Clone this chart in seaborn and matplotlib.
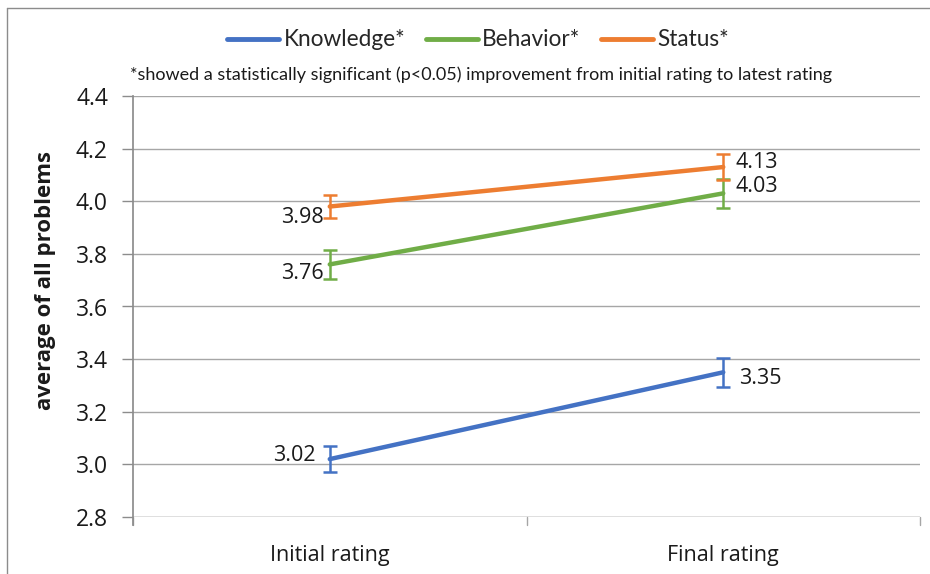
import matplotlib
matplotlib.use("Agg")
import matplotlib.pyplot as plt
import seaborn as sns
import pandas as pd
from matplotlib.lines import Line2D

# Data
ratings = ["Initial rating", "Final rating"]
series_names = ["Knowledge*", "Behavior*", "Status*"]
knowledge = [3.02, 3.35]
behavior = [3.76, 4.03]
status = [3.98, 4.13]
knowledge_err = [0.05, 0.055]
behavior_err = [0.055, 0.055]
status_err = [0.045, 0.048]
y_ticks = [2.8, 3.0, 3.2, 3.4, 3.6, 3.8, 4.0, 4.2, 4.4]

colors = {"Knowledge*": "#4472C4", "Behavior*": "#70AD47", "Status*": "#ED7D31"}
values = {"Knowledge*": knowledge, "Behavior*": behavior, "Status*": status}
errors = {"Knowledge*": knowledge_err, "Behavior*": behavior_err, "Status*": status_err}

rows = []
for name in series_names:
    for r, v in zip(ratings, values[name]):
        rows.append({"rating": r, "series": name, "value": v})
df = pd.DataFrame(rows)

sns.set_theme(style="white")
plt.rcParams["font.family"] = ["Open Sans", "DejaVu Sans"]

fig = plt.figure(figsize=(9.30, 5.74), dpi=100)
ax = fig.add_axes([133 / 930, 1 - 517 / 574, (920 - 133) / 930, (517 - 96) / 574])

sns.lineplot(data=df, x="rating", y="value", hue="series", hue_order=series_names,
             palette=colors, linewidth=3.2, ax=ax, legend=False, sort=False)

xs = [0, 1]
for name in series_names:
    ax.errorbar(xs, values[name], yerr=errors[name], fmt="none",
                ecolor=colors[name], elinewidth=1.8, capsize=5, capthick=1.8, zorder=3)

# Value labels
label_pos = {
    "Knowledge*": [(-0.035, 0.012, "right"), (0.04, -0.025, "left")],
    "Behavior*": [(-0.015, -0.035, "right"), (0.03, 0.025, "left")],
    "Status*": [(-0.015, -0.04, "right"), (0.03, 0.017, "left")],
}
for name in series_names:
    for i, v in enumerate(values[name]):
        dx, dy, ha = label_pos[name][i]
        ax.text(xs[i] + dx, v + dy, f"{v:.2f}", ha=ha, va="center",
                fontsize=15.5, color="#1a1a1a")

ax.set_xlim(-0.5, 1.5)
ax.set_ylim(2.8, 4.4)
ax.set_yticks(y_ticks)
ax.set_yticklabels([f"{t:.1f}" for t in y_ticks], fontsize=16.5, color="#1a1a1a")
ax.set_xticks(xs)
ax.set_xticklabels(ratings, fontsize=15.5, color="#1a1a1a")
ax.tick_params(axis="x", length=0, pad=20)
ax.tick_params(axis="y", length=8, width=1, color="#8c8c8c", pad=10, left=True)
ax.grid(axis="y", color="#a6a6a6", linewidth=1)
ax.set_axisbelow(True)

# Category boundary ticks below the axis
for xb in [-0.5, 0.5, 1.5]:
    ax.plot([xb, xb], [2.8, 2.77], color="#a6a6a6", lw=1, clip_on=False)

for side in ["top", "right", "bottom"]:
    ax.spines[side].set_visible(False)
ax.spines["left"].set_color("#8c8c8c")
ax.spines["left"].set_bounds(2.77, 4.4)
ax.axhline(2.8, color="#a6a6a6", lw=1)

ax.set_xlabel("")
ax.set_ylabel("")
fig.text(46 / 930, 1 - 281 / 574, "average of all problems", rotation=90,
         ha="center", va="center", fontsize=16, fontweight="bold", color="#1a1a1a")

# Legend
handles = [Line2D([0], [0], color=colors[n], lw=3.5) for n in series_names]
fig.legend(handles, series_names, loc="center", bbox_to_anchor=(478 / 930, 1 - 40 / 574),
           ncol=3, frameon=False, handlelength=2.3, columnspacing=0.9,
           handletextpad=0.2, prop={"family": ["Lato", "DejaVu Sans"], "size": 16.3})

fig.text(481 / 930, 1 - 75 / 574,
         "*showed a statistically significant (p<0.05) improvement from initial rating to latest rating",
         ha="center", va="center", fontsize=13, color="#1a1a1a",
         family=["Lato", "DejaVu Sans"])

# Outer frame
fig.add_artist(Line2D([7 / 930, 7 / 930], [0, 1 - 8 / 574], color="#8c8c8c", lw=1,
                      transform=fig.transFigure))
fig.add_artist(Line2D([7 / 930, 1], [1 - 8 / 574, 1 - 8 / 574], color="#8c8c8c", lw=1,
                      transform=fig.transFigure))

fig.savefig("out.png", dpi=100)
